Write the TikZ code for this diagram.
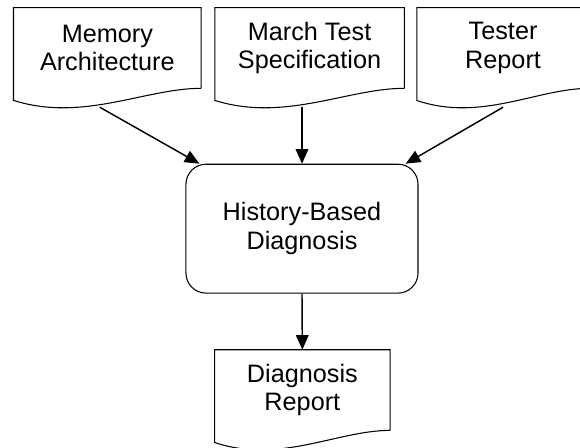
\documentclass[tikz,border=0pt]{standalone}
\usepackage{fontspec}
\setmainfont{Liberation Sans}
\usetikzlibrary{arrows.meta,calc,positioning}

% outline of a document symbol round a named node
\newcommand{\docoutline}[1]{%
  \draw[docline] (#1.south east) -- (#1.north east) -- (#1.north west) -- ([yshift=-0.32cm]#1.south west)
    .. controls ($(#1.south west)!0.37!(#1.south east)+(0,-0.9)$) and ($(#1.south west)!0.7!(#1.south east)$) .. (#1.south east);}

\begin{document}
\begin{tikzpicture}[
    docbox/.style={minimum height=2.12cm, align=center, inner sep=0pt, font=\fontsize{19}{21.5}\selectfont},
    docline/.style={line width=0.8pt},
    procbox/.style={draw, line width=0.8pt, rounded corners=0.53cm, minimum width=6.14cm, minimum height=3.41cm, align=center, font=\fontsize{19}{21.5}\selectfont},
    arr/.style={-{Triangle[length=11pt,width=9.5pt]}, line width=1.1pt}
]
\useasboundingbox (0,0) rectangle (15.346,-11.853);

\node[docbox, minimum width=4.95cm] (M) at (2.84,-1.27) {Memory\\Architecture};
\node[docbox, minimum width=5.00cm] (S) at (8.19,-1.27) {March Test\\Specification};
\node[docbox, minimum width=4.55cm] (T) at (13.31,-1.27) {Tester\\Report};
\node[procbox] (H) at (7.99,-6.05) {History-Based\\Diagnosis};
\node[docbox, minimum width=4.63cm] (D) at (8.00,-10.32) {Diagnosis\\Report};

\docoutline{M}
\docoutline{S}
\docoutline{T}
\docoutline{D}

\draw[arr] ([xshift=-0.2cm,yshift=-0.5cm]M.south) -- ([xshift=0.37cm]H.north west);
\draw[arr, shorten <=0.5cm] (H.north |- S.south) -- (H.north);
\draw[arr] ([yshift=-0.5cm]T.south) -- ([xshift=-0.34cm]H.north east);
\draw[arr] (H.south) -- (D.north);
\end{tikzpicture}
\end{document}
